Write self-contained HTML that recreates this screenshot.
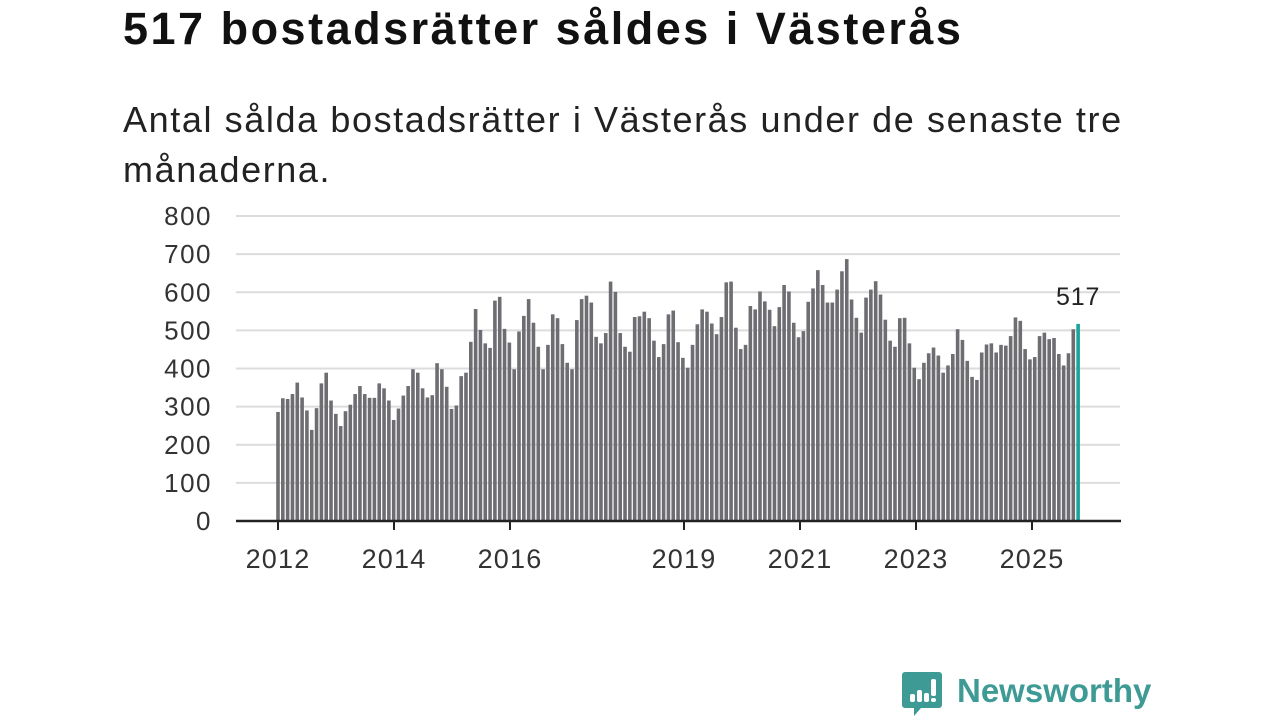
<!DOCTYPE html>
<html><head><meta charset="utf-8">
<style>
html,body{margin:0;padding:0;background:#fff;width:1280px;height:720px;overflow:hidden;font-family:"Liberation Sans","DejaVu Sans",sans-serif;}
#title{position:absolute;left:123px;top:3px;font-size:45px;font-weight:bold;color:#111;letter-spacing:2.5px;margin:0;white-space:nowrap;}
#subtitle{position:absolute;left:123px;top:95px;font-size:36px;line-height:50px;color:#222;margin:0;width:1040px;letter-spacing:1.6px;}
svg{position:absolute;left:0;top:0;}
</style></head><body>
<h1 id="title">517 bostadsrätter såldes i Västerås</h1>
<p id="subtitle">Antal sålda bostadsrätter i Västerås under de senaste tre månaderna.</p>
<svg id="chart" width="1280" height="720"></svg>
<script>
const values=[286,322,320,333,363,324,290,239,296,361,389,316,281,249,288,305,333,354,333,323,323,361,348,316,265,295,329,354,398,389,348,324,330,414,398,352,294,303,380,389,470,556,501,466,454,578,588,504,468,398,497,538,582,520,457,
398,462,542,532,464,415,398,527,582,591,573,483,466,493,628,601,493,457,444,535,537,549,532,473,430,464,542,552,469,428,402,462,516,555,549,518,490,535,626,628,507,451,462,564,555,602,576,554,511,561,619,602,520,482,498,575,610,658,
619,573,573,607,655,687,581,533,494,586,607,629,594,528,473,457,532,533,466,402,372,415,440,455,434,389,408,438,503,475,420,378,370,442,463,466,442,462,460,485,534,525,451,424,430,485,494,477,480,438,408,440,503,517];
const yTicks=[0,100,200,300,400,500,600,700,800];
const xTickYears=[2012,2014,2016,2019,2021,2023,2025];
const startYear=2012;
const NS="http://www.w3.org/2000/svg";
const svg=document.getElementById('chart');
const y=v=>521-v*(305/800);
const x=i=>278+i*4.82;
function mk(t,a){const e=document.createElementNS(NS,t);for(const k in a)e.setAttribute(k,a[k]);svg.appendChild(e);return e;}
yTicks.forEach(v=>{
  if(v>0){const g=mk('line',{x1:236,x2:1120,y1:y(v),y2:y(v),stroke:'#dcdcdc','stroke-width':2});
  
  }
  const t=mk('text',{x:212,y:y(v)+9,'text-anchor':'end','font-size':26,'letter-spacing':1.5,fill:'#333','font-family':'Liberation Sans, sans-serif'});
  t.textContent=v;
  
  
});
values.forEach((v,i)=>{
  const last=i===values.length-1;
  const r=mk('rect',{x:x(i)-1.8,y:y(v),width:3.6,height:521-y(v),fill:last?'#1ba39c':'#6e6d72'});
  
  
});
const ax=mk('line',{x1:236,x2:1121,y1:521,y2:521,stroke:'#222','stroke-width':2.5});


xTickYears.forEach(yr=>{
  const xi=278+(yr-startYear)*58;
  const tk=mk('line',{x1:xi,x2:xi,y1:521,y2:530,stroke:'#222','stroke-width':2});
  
  
  const t=mk('text',{x:xi,y:568,'text-anchor':'middle','font-size':27,'letter-spacing':1.2,fill:'#333','font-family':'Liberation Sans, sans-serif'});
  t.textContent=yr;
  
  
});
const li=values.length-1;
const lab=mk('text',{x:x(li),y:y(values[li])-19,'text-anchor':'middle','font-size':25,'letter-spacing':0.8,fill:'#222','font-family':'Liberation Sans, sans-serif'});
lab.textContent=values[li];


</script>
<svg width="260" height="50" style="left:900px;top:668px;">
  <path d="M5 4 h34 a3 3 0 0 1 3 3 v30 a3 3 0 0 1 -3 3 h-18 l-7 8 v-8 h-9 a3 3 0 0 1 -3 -3 v-30 a3 3 0 0 1 3 -3z" fill="#3e9a94"/>
  <rect x="10" y="26" width="5" height="8" rx="2" fill="#fff"/>
  <rect x="17" y="22" width="5" height="12" rx="2" fill="#fff"/>
  <rect x="24" y="25" width="5" height="9" rx="2" fill="#fff"/>
  <rect x="31" y="11" width="5" height="17" rx="2" fill="#fff"/>
  <rect x="31" y="30" width="5" height="4" rx="2" fill="#fff"/>
  <text x="57" y="34" font-size="33" font-weight="bold" fill="#3e9a94" font-family="Liberation Sans, sans-serif">Newsworthy</text>
</svg>
</body></html>
